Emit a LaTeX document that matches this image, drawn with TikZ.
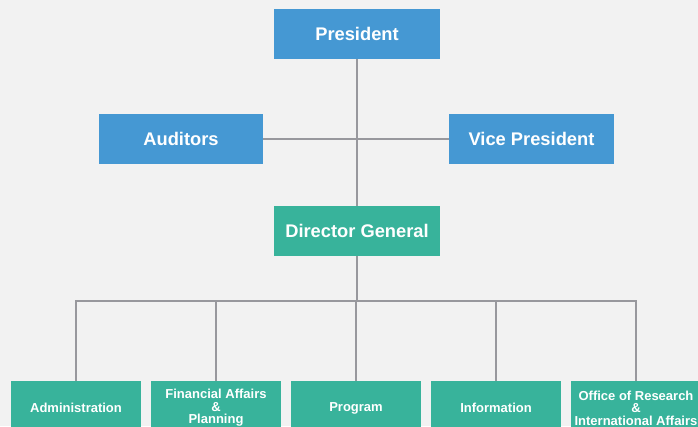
\documentclass[tikz,border=0pt]{standalone}
\usepackage{fontspec}
\setmainfont{Liberation Sans}
\usepackage{tikz}
\usetikzlibrary{positioning, calc}
\definecolor{bgwhite}{RGB}{242,242,242}
\definecolor{boardblue}{RGB}{69,152,211}
\definecolor{staffgreen}{RGB}{56,179,155}
\definecolor{linkgray}{RGB}{152,152,157}
\tikzset{
    board/.style={rectangle, fill=boardblue, text=white, minimum width=166pt, minimum height=50pt, font=\bfseries\fontsize{18.3}{20}\selectfont},
    head/.style={board, fill=staffgreen},
    unit/.style={rectangle, fill=staffgreen, text=white, minimum width=130pt, minimum height=54pt, inner sep=0pt, align=center, font=\bfseries\fontsize{13}{12.5}\selectfont},
    link/.style={line width=2.6pt, linkgray},
}

\begin{document}
\begin{tikzpicture}[x=1pt, y=-1pt]
            \fill[bgwhite] (0,0) rectangle (698,426);
            \useasboundingbox (0,0) rectangle (698,426);
            \clip (0,0) rectangle (698,426);
            % board
            \node[board] (pres) at (357,34) {President};
            \node[board, minimum width=164pt] (aud) at (181,139) {Auditors};
            \node[board, minimum width=165pt] (vp) at (531.5,139) {Vice President};
            \node[head] (dg) at (357,231) {Director General};
            % units
            \node[unit] (adm) at (76,408) {Administration};
            \node[unit] (fin) at (216,408) {Financial Affairs\\\&\\Planning};
            \node[unit] (prog) at (356,408) {Program};
            \node[unit] (info) at (496,408) {Information};
            \node[unit] (ori) at (636,408) {Office of Research\\\&\\International Affairs};
            \coordinate (bus) at (357,301);
            % lines
            \draw[link] (pres) -- (dg);
            \draw[link] (aud) -- (vp);
            \draw[link] (dg) -- (bus);
            \foreach \u in {adm, fin, prog, info, ori}
                \draw[link] (bus) -| (\u.north);
        \end{tikzpicture}
\end{document}
